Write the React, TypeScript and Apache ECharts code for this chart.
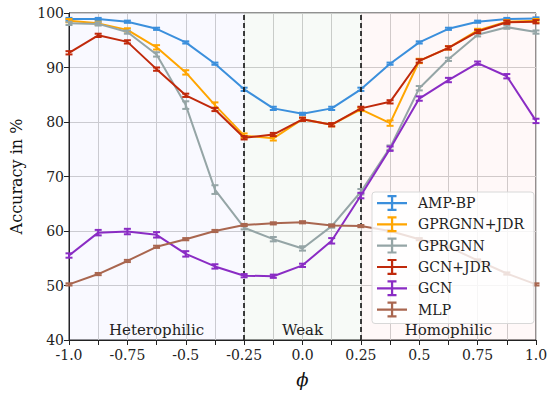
import React, { useEffect, useRef } from "react";
import * as echarts from "echarts";

const phi = [-1, -0.875, -0.75, -0.625, -0.5, -0.375, -0.25, -0.125, 0, 0.125, 0.25, 0.375, 0.5, 0.625, 0.75, 0.875, 1];
const xTickLabels = ["-1.0", "-0.75", "-0.5", "-0.25", "0.0", "0.25", "0.5", "0.75", "1.0"];

const ampBP = [98.9, 98.9, 98.4, 97.1, 94.6, 90.7, 86.0, 82.5, 81.5, 82.5, 86.0, 90.7, 94.6, 97.1, 98.4, 98.9, 99.0];
const gprgnnJDR = [98.6, 98.1, 96.9, 93.7, 89.1, 83.1, 77.5, 77.0, 80.5, 79.5, 82.3, 79.8, 91.2, 93.6, 96.8, 98.4, 98.6];
const gprgnn = [98.1, 98.0, 96.5, 92.4, 83.1, 67.6, 60.6, 58.5, 56.8, 60.9, 67.2, 75.3, 86.2, 91.5, 96.0, 97.4, 96.5];
const gcnJDR = [92.7, 95.9, 94.7, 89.7, 84.9, 82.3, 77.1, 77.7, 80.5, 79.5, 82.5, 83.7, 91.2, 93.6, 96.6, 98.3, 98.4];
const gcn = [55.5, 59.7, 59.9, 59.3, 55.8, 53.5, 51.8, 51.7, 53.7, 58.2, 66.5, 75.1, 84.3, 87.7, 90.8, 88.4, 80.2];
const mlp = [50.2, 52.1, 54.5, 57.1, 58.5, 60.0, 61.1, 61.4, 61.6, 61.0, 60.9, 60.0, 58.5, 57.1, 54.6, 52.2, 50.2];

const errAmp = [0.2, 0.2, 0.2, 0.2, 0.2, 0.2, 0.3, 0.3, 0.2, 0.3, 0.3, 0.2, 0.2, 0.2, 0.2, 0.2, 0.2];
const errGprJdr = [0.3, 0.3, 0.3, 0.4, 0.4, 0.5, 0.4, 0.4, 0.3, 0.3, 0.3, 0.5, 0.4, 0.3, 0.3, 0.3, 0.3];
const errGpr = [0.3, 0.3, 0.3, 0.4, 0.7, 0.8, 0.3, 0.4, 0.4, 0.3, 0.5, 0.4, 0.4, 0.3, 0.3, 0.3, 0.3];
const errGcnJdr = [0.3, 0.3, 0.3, 0.3, 0.3, 0.3, 0.3, 0.3, 0.3, 0.3, 0.3, 0.3, 0.3, 0.3, 0.3, 0.3, 0.3];
const errGcn = [0.4, 0.5, 0.5, 0.5, 0.5, 0.4, 0.3, 0.3, 0.3, 0.5, 0.5, 0.4, 0.4, 0.4, 0.3, 0.4, 0.4];
const errMlp = [0.2, 0.2, 0.2, 0.2, 0.2, 0.2, 0.2, 0.2, 0.2, 0.2, 0.2, 0.2, 0.2, 0.2, 0.2, 0.2, 0.2];

const seriesNames = ["AMP-BP", "GPRGNN+JDR", "GPRGNN", "GCN+JDR", "GCN", "MLP"];
const seriesValues = [ampBP, gprgnnJDR, gprgnn, gcnJDR, gcn, mlp];
const seriesErrors = [errAmp, errGprJdr, errGpr, errGcnJdr, errGcn, errMlp];
const seriesColors = ["#3b8fdc", "#ffa500", "#95a5a6", "#c0290b", "#8a2cc4", "#a9664f"];

const regions = [
  { name: "Heterophilic", from: -1, to: -0.25, color: "rgba(90,90,255,0.04)" },
  { name: "Weak", from: -0.25, to: 0.25, color: "rgba(40,120,40,0.035)" },
  { name: "Homophilic", from: 0.25, to: 1, color: "rgba(255,80,80,0.04)" },
];
const boundaries = [-0.25, 0.25];

const FONT = "'DejaVu Serif', serif";
const legendIcon =
  "path://M0,8h30v2.2h-30z M14,1.5h2.2v15h-2.2z M10.5,1h9v2.2h-9z M10.5,14.8h9v2.2h-9z";

export default function App() {
  const ref = useRef<HTMLDivElement>(null);
  useEffect(() => {
    if (!ref.current) return;
    const chart = echarts.init(ref.current, null, { renderer: "svg" });

    const lineSeries: any[] = seriesNames.map((name, i) => ({
      name,
      type: "line",
      data: phi.map((x, k) => [x, seriesValues[i][k]]),
      symbol: "none",
      lineStyle: { color: seriesColors[i], width: 2 },
      itemStyle: { color: seriesColors[i] },
      z: 3 + i,
    }));

    const errSeries: any[] = seriesNames.map((name, i) => ({
      name,
      type: "custom",
      data: phi.map((x, k) => [x, seriesValues[i][k] - seriesErrors[i][k], seriesValues[i][k] + seriesErrors[i][k]]),
      encode: { x: 0, y: [1, 2] },
      z: 3 + i,
      renderItem: (params: any, api: any) => {
        const x = api.value(0);
        const lo = api.coord([x, api.value(1)]);
        const hi = api.coord([x, api.value(2)]);
        const hw = 3.5;
        const style = { stroke: seriesColors[i], lineWidth: 2 };
        return {
          type: "group",
          children: [
            { type: "line", shape: { x1: lo[0], y1: lo[1], x2: hi[0], y2: hi[1] }, style },
            { type: "line", shape: { x1: lo[0] - hw, y1: lo[1], x2: lo[0] + hw, y2: lo[1] }, style },
            { type: "line", shape: { x1: hi[0] - hw, y1: hi[1], x2: hi[0] + hw, y2: hi[1] }, style },
          ],
        };
      },
    }));

    const bgSeries = {
      name: "regions",
      type: "line",
      data: [],
      z: 1,
      silent: true,
      markArea: {
        silent: true,
        data: regions.map((r) => [
          {
            xAxis: r.from,
            yAxis: 40,
            itemStyle: { color: r.color },
            label: {
              show: true,
              position: "insideBottom",
              formatter: r.name,
              color: "#222",
              fontFamily: FONT,
              fontSize: 15,
              distance: 3,
            },
          },
          { xAxis: r.to, yAxis: 100 },
        ]),
      },
      markLine: {
        silent: true,
        symbol: "none",
        label: { show: false },
        lineStyle: { color: "#111", type: [5, 3], width: 1.6 },
        data: boundaries.map((b) => ({ xAxis: b })),
      },
    };

    chart.setOption({
      animation: false,
      backgroundColor: "#fff",
      grid: {
        left: 67,
        right: 15,
        top: 13,
        bottom: 47,
        show: true,
        borderColor: "#222",
        borderWidth: 1,
      },
      legend: {
        orient: "vertical",
        left: 372,
        top: 192,
        z: 50,
        data: seriesNames.map((n) => ({ name: n, icon: legendIcon })),
        itemWidth: 30,
        itemHeight: 16,
        itemGap: 5.3,
        padding: [3, 10, 6, 5],
        backgroundColor: "rgba(255,255,255,0.8)",
        borderColor: "#d8d8d8",
        borderWidth: 1,
        borderRadius: 3,
        textStyle: { fontFamily: FONT, fontSize: 14, color: "#222", padding: [0, 0, 0, 6] },
      },
      xAxis: {
        type: "value",
        min: -1,
        max: 1,
        interval: 0.125,
        name: "ϕ",
        nameLocation: "middle",
        nameGap: 30,
        nameTextStyle: { fontFamily: FONT, fontSize: 18, fontStyle: "italic", color: "#111" },
        axisLine: { show: true, onZero: false, lineStyle: { color: "#222", width: 1 } },
        axisTick: { show: true, length: 5, lineStyle: { color: "#222" } },
        axisLabel: {
          fontFamily: FONT,
          fontSize: 14,
          color: "#222",
          margin: 8,
          formatter: (v: number) => {
            const q = v * 4;
            if (Math.abs(q - Math.round(q)) < 1e-6) return xTickLabels[Math.round(q) + 4];
            return "";
          },
        },
        splitLine: { show: true, lineStyle: { color: "#d0d0d0", width: 1 } },
      },
      yAxis: {
        type: "value",
        min: 40,
        max: 100,
        interval: 10,
        name: "Accuracy in %",
        nameLocation: "middle",
        nameGap: 45,
        nameTextStyle: { fontFamily: FONT, fontSize: 16, color: "#111" },
        axisLine: { show: true, onZero: false, lineStyle: { color: "#222", width: 1 } },
        axisTick: { show: true, length: 5, lineStyle: { color: "#222" } },
        axisLabel: { fontFamily: FONT, fontSize: 14, color: "#222", margin: 5 },
        splitLine: { show: true, lineStyle: { color: "#d0d0d0", width: 1 } },
      },
      series: [bgSeries, ...lineSeries, ...errSeries],
    });
    return () => chart.dispose();
  }, []);
  return (
    <div
      ref={ref}
      style={{ width: 551, height: 393, position: "absolute", left: 0, top: 0 }}
    />
  );
}
